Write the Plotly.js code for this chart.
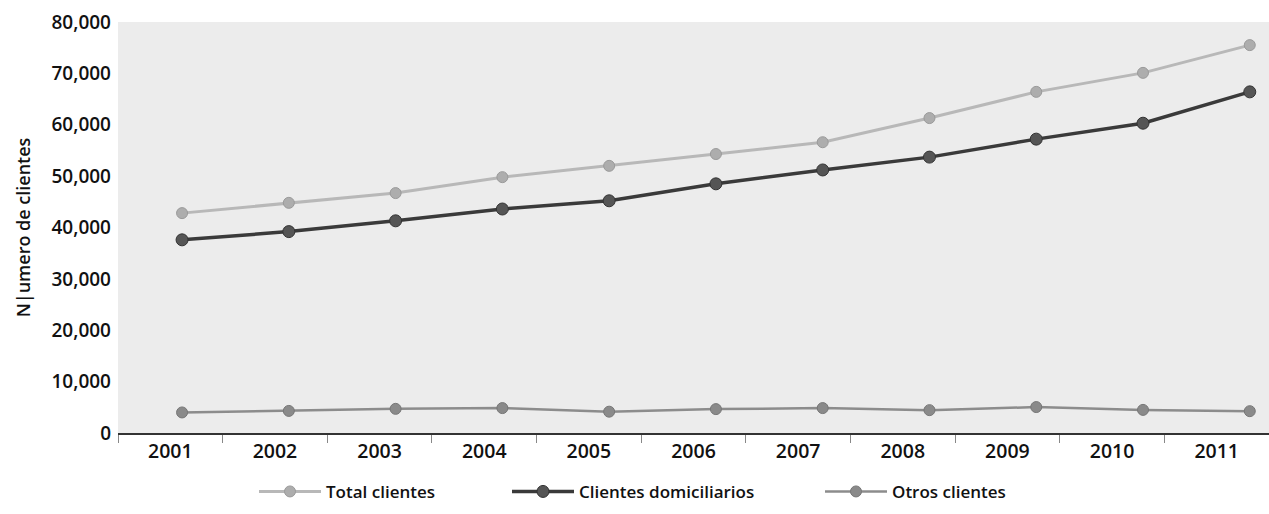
<!DOCTYPE html>
<html>
<head>
<meta charset="utf-8">
<script src="https://cdn.plot.ly/plotly-3.0.1.min.js"></script>
<style>html,body{margin:0;padding:0;background:#fff;}#chart{width:1269px;height:514px;}</style>
</head>
<body>
<div id="chart"></div>
<script>
const years = [2001, 2002, 2003, 2004, 2005, 2006, 2007, 2008, 2009, 2010, 2011];
const yearLabels = ["2001", "2002", "2003", "2004", "2005", "2006", "2007", "2008", "2009", "2010", "2011"];
const totalClientes = [42800, 44800, 46700, 49800, 52000, 54300, 56600, 61300, 66400, 70100, 75500];
const clientesDomiciliarios = [37600, 39200, 41300, 43600, 45200, 48500, 51200, 53700, 57200, 60300, 66400];
const otrosClientes = [4000, 4300, 4700, 4850, 4150, 4650, 4850, 4450, 5050, 4500, 4250];
const seriesNames = ["Total clientes", "Clientes domiciliarios", "Otros clientes"];
const yTitle = "N|umero de clientes";

const fam = "Open Sans, Noto Sans, sans-serif";
const legendFont = {family: fam, size: 17, color: "#111", weight: 600};

const traces = [
  {
    x: years, y: totalClientes, name: seriesNames[0], type: "scatter", mode: "lines+markers",
    xaxis: "x2", yaxis: "y", legend: "legend",
    line: {color: "#b8b8b8", width: 3},
    marker: {color: "#adadad", size: 11, line: {color: "#9a9a9a", width: 1}}
  },
  {
    x: years, y: clientesDomiciliarios, name: seriesNames[1], type: "scatter", mode: "lines+markers",
    xaxis: "x2", yaxis: "y", legend: "legend2",
    line: {color: "#3a3a3a", width: 3.5},
    marker: {color: "#555555", size: 12, line: {color: "#333", width: 1}}
  },
  {
    x: years, y: otrosClientes, name: seriesNames[2], type: "scatter", mode: "lines+markers",
    xaxis: "x2", yaxis: "y", legend: "legend3",
    line: {color: "#8c8c8c", width: 2.5},
    marker: {color: "#8a8a8a", size: 11, line: {color: "#777", width: 1}}
  },
  {
    // anchors the category label axis (draws nothing)
    x: years, y: totalClientes, type: "scatter", mode: "none",
    xaxis: "x", yaxis: "y", showlegend: false, hoverinfo: "skip"
  }
];

function legendAt(px) {
  return {
    orientation: "h", xref: "container", yref: "container",
    x: px / 1269, xanchor: "left", y: 0.043, yanchor: "middle",
    font: legendFont, itemwidth: 62, bgcolor: "rgba(0,0,0,0)"
  };
}

const layout = {
  width: 1269, height: 514,
  margin: {l: 118, r: 0, t: 22, b: 81},
  paper_bgcolor: "#ffffff",
  plot_bgcolor: "#ececec",
  font: {family: fam, color: "#111"},
  showlegend: true,
  legend: legendAt(254),
  legend2: legendAt(507),
  legend3: legendAt(820),
  xaxis: {
    type: "linear", range: [2000.5, 2011.5],
    tickmode: "array", tickvals: years, ticktext: yearLabels,
    ticks: "", showgrid: false, zeroline: false,
    showline: true, linecolor: "#333", linewidth: 1.5,
    tickfont: {family: fam, size: 19.5, color: "#111", weight: 600},
    minor: {tickmode: "linear", tick0: 2000.5, dtick: 1, ticks: "outside", ticklen: 8, tickcolor: "#888", tickwidth: 1, showgrid: false},
    fixedrange: true
  },
  xaxis2: {
    type: "linear", range: [2000.40, 2011.18], overlaying: "x", anchor: "y",
    visible: false, showgrid: false, zeroline: false
  },
  yaxis: {
    range: [0, 80000], tickmode: "linear", tick0: 0, dtick: 10000,
    tickformat: ",d", showgrid: false, zeroline: false, showline: false,
    ticks: "", ticklabelstandoff: 6,
    tickfont: {family: fam, size: 19, color: "#111", weight: 600},
    title: {text: yTitle, font: {family: fam, size: 18, color: "#111", weight: 600}, standoff: 16}
  }
};

Plotly.newPlot("chart", traces, layout, {displayModeBar: false, staticPlot: true});
</script>
</body>
</html>
